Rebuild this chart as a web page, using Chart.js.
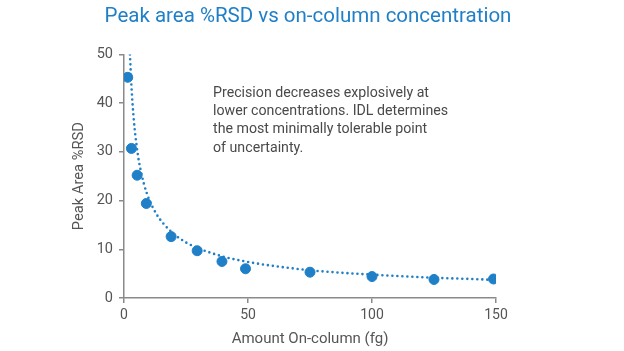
<!DOCTYPE html>
<html>
<head>
<meta charset="utf-8">
<script src="https://cdn.jsdelivr.net/npm/chart.js@4/dist/chart.umd.min.js"></script>
<style>
  html, body { margin: 0; padding: 0; background: #fff; }
  #wrap { width: 624px; height: 351px; position: relative; }
</style>
</head>
<body>
<div id="wrap"><canvas id="c" width="624" height="351"></canvas></div>
<script>
// Measured data points (Amount on-column in fg, Peak area %RSD)
const amounts = [1.5, 3, 5.3, 9, 19, 29.5, 39.5, 49, 75, 100, 125, 149];
const rsd     = [45.3, 30.7, 25.2, 19.4, 12.6, 9.7, 7.5, 6.0, 5.3, 4.4, 3.8, 3.9];

// Dotted trend line
const trendX = [2.4, 3, 4, 5, 6, 8, 10, 13, 16, 20, 25, 30, 40, 50, 60, 75, 90, 100, 115, 125, 140, 150];
const trendY = [50, 43.5, 36.3, 31.6, 28.1, 23.5, 20.4, 17.3, 15.2, 13.2, 11.4, 10.2, 8.5, 7.4, 6.6, 5.7, 5.1, 4.8, 4.4, 4.15, 3.9, 3.7];

const xTicks = [0, 50, 100, 150];
const yTicks = [0, 10, 20, 30, 40, 50];

const titleText = 'Peak area %RSD vs on-column concentration';
const xTitle = 'Amount On-column (fg)';
const yTitle = 'Peak Area %RSD';
const noteLines = [
  'Precision decreases explosively at',
  'lower concentrations. IDL determines',
  'the most minimally tolerable point',
  'of uncertainty.'
];

const blue = '#1f7fc7';
const axisGray = '#8a8a8a';
const textGray = '#555555';

const notePlugin = {
  id: 'note',
  afterDraw(chart) {
    const ctx = chart.ctx;
    ctx.save();
    ctx.font = '14.2px Roboto';
    ctx.fillStyle = '#4a4a4a';
    ctx.textBaseline = 'middle';
    ctx.textAlign = 'left';
    noteLines.forEach((l, i) => ctx.fillText(l, 213, 93 + i * 18.4));
    ctx.restore();
  }
};

new Chart(document.getElementById('c'), {
  type: 'scatter',
  data: {
    datasets: [
      {
        label: 'RSD',
        data: amounts.map((x, i) => ({ x, y: rsd[i] })),
        backgroundColor: blue,
        borderColor: blue,
        pointRadius: 5,
        pointHoverRadius: 5,
        order: 1
      },
      {
        label: 'Trend',
        type: 'line',
        data: trendX.map((x, i) => ({ x, y: trendY[i] })),
        borderColor: blue,
        borderWidth: 2.6,
        borderDash: [0, 5],
        borderCapStyle: 'round',
        pointRadius: 0,
        cubicInterpolationMode: 'monotone',
        fill: false,
        order: 2
      }
    ]
  },
  options: {
    responsive: false,
    animation: false,
    devicePixelRatio: 1,
    layout: { padding: { left: 0, right: 8, top: 3, bottom: 0 } },
    plugins: {
      legend: { display: false },
      tooltip: { enabled: false },
      title: {
        display: true,
        text: titleText,
        color: blue,
        font: { family: 'Roboto', size: 20.5, weight: 'normal' },
        padding: { top: 2, bottom: 24.8 }
      }
    },
    scales: {
      x: {
        type: 'linear',
        min: 0, max: 150,
        afterBuildTicks(s) { s.ticks = xTicks.map(v => ({ value: v })); },
        afterFit(s) { s.height = 53; },
        ticks: { color: textGray, font: { family: 'Roboto', size: 14 }, padding: 4 },
        grid: { display: true, drawOnChartArea: false, drawTicks: true, tickLength: 5, color: axisGray, lineWidth: 1.5 },
        border: { display: true, color: axisGray, width: 1.5 },
        title: { display: true, text: xTitle, color: textGray, font: { family: 'Roboto', size: 15 }, padding: { top: 2, bottom: 3 } }
      },
      y: {
        type: 'linear',
        position: 'left',
        min: 0, max: 50,
        afterBuildTicks(s) { s.ticks = yTicks.map(v => ({ value: v })); },
        afterFit(s) { s.width = 124; },
        ticks: { color: textGray, font: { family: 'Roboto', size: 14.5 }, padding: 6 },
        grid: { display: true, drawOnChartArea: false, drawTicks: true, tickLength: 5, color: axisGray, lineWidth: 1.5 },
        border: { display: true, color: axisGray, width: 1.5 },
        title: { display: true, text: yTitle, color: textGray, font: { family: 'Roboto', size: 14.7 }, padding: { top: 71, bottom: 8 } }
      },
      yRight: {
        type: 'linear',
        position: 'right',
        min: 0, max: 50,
        afterFit(s) { s.width = 120; },
        ticks: { display: false },
        grid: { display: false },
        border: { display: false }
      }
    }
  },
  plugins: [notePlugin]
});
</script>
</body>
</html>
